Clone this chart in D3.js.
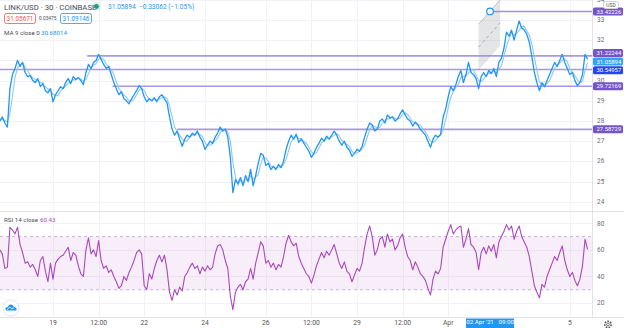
<!DOCTYPE html>
<html><head><meta charset="utf-8">
<script src="https://cdn.jsdelivr.net/npm/d3@7"></script>
<style>
html,body{margin:0;padding:0;background:#fff;}
svg{display:block;font-family:Roboto,"Open Sans",sans-serif;}
</style></head><body>
<svg id="chart" width="624" height="328"></svg>
<script>
// LINK/USD, 30-minute Coinbase chart, sampled every 2 hours from 17 Mar 2021 06:00 UTC
const firstBar = Date.UTC(2021, 2, 17, 6, 0);
const stepHours = 2;
const closes = [
  28.0, 28.2, 27.9, 27.7, 29.6, 30.3, 30.6, 31.0, 30.7, 30.9,
  30.4, 30.2, 30.25, 30.0, 29.9, 30.1, 29.7, 29.85, 29.5, 29.4,
  29.6, 28.95, 29.3, 29.5, 29.7, 29.6, 29.9, 30.1, 29.85, 30.2,
  30.05, 30.15, 30.0, 29.8, 30.4, 30.8, 30.6, 30.9, 31.0, 31.3,
  31.05, 30.8, 30.6, 30.7, 30.3, 29.9, 29.6, 29.3, 29.45, 29.1,
  29.0, 28.85, 29.1, 29.3, 29.5, 29.75, 29.6, 29.2, 28.95, 29.1,
  29.0, 29.15, 28.95, 29.2, 29.3, 29.1, 28.9, 28.2, 27.6, 27.3,
  27.5, 27.1, 26.75, 27.1, 27.3, 27.2, 27.4, 27.3, 27.5, 27.2,
  27.0, 26.6, 26.8, 27.0, 26.9, 27.2, 27.4, 27.7, 27.5, 27.6,
  27.2, 26.2, 24.45, 25.1, 24.9, 25.2, 24.8, 25.3, 25.0, 25.6,
  24.8, 25.3, 25.9, 26.4, 26.3, 25.8, 25.9, 25.6, 25.75, 25.6,
  25.85, 25.7, 26.0, 26.6, 27.0, 27.3, 27.1, 27.35, 26.95, 27.1,
  26.9, 26.7, 26.5, 26.2, 26.4, 26.7, 26.9, 27.15, 27.0, 27.25,
  27.1, 27.3, 27.5, 27.3, 27.0, 26.8, 27.0, 26.7, 26.55, 26.25,
  26.4, 26.6, 26.5, 26.75, 27.2, 27.6, 27.9, 27.8, 27.5, 27.6,
  28.0, 28.1, 27.9, 28.3, 28.15, 28.2, 28.0, 28.1, 28.35, 28.55,
  28.3, 28.1, 28.0, 27.75, 27.95, 27.8, 27.6, 27.45, 27.3, 27.0,
  26.7, 27.1, 27.3, 27.2, 27.35, 28.2, 28.6, 29.2, 29.7, 29.5,
  29.8, 30.2, 30.5, 29.9, 30.3, 30.9, 30.4, 30.3, 30.1, 29.6,
  30.2, 30.4, 30.2, 30.5, 30.35, 30.6, 30.2, 30.9, 31.1, 31.6,
  32.4, 32.2, 32.5, 32.0, 32.5, 32.95, 32.6, 32.5, 32.3, 31.9,
  31.2, 30.4, 29.9, 29.5, 29.9, 29.7, 30.0, 30.3, 30.6, 30.9,
  30.7, 31.0, 31.3, 30.9, 30.6, 30.3, 30.4, 30.0, 29.75, 29.9,
  30.3, 31.3, 31.05894
];
const rsiValues = [
  60, 57, 46, 47, 77, 75, 72, 77, 64, 58,
  50, 51, 47, 49, 45, 40, 52, 55, 44, 36,
  50, 38, 50, 53, 55, 56, 59, 62, 52, 58,
  56, 48, 42, 40, 60, 69, 57, 60, 55, 67,
  52, 46, 48, 43, 45, 40, 36, 31, 33, 40,
  37, 43, 47, 52, 58, 60, 57, 33, 30, 42,
  38, 46, 52, 56, 51, 56, 45, 28, 22, 30,
  26, 32, 29, 40, 43, 47, 50, 46, 48, 42,
  47, 44, 48, 45, 47, 57, 63, 64, 60, 52,
  46, 25, 15, 28, 32, 34, 30, 36, 38, 46,
  38, 50, 58, 66, 63, 50, 52, 47, 50, 45,
  49, 47, 55, 65, 71, 66, 63, 65, 55, 50,
  46, 42, 40, 35, 41, 48, 53, 58, 54, 59,
  56, 60, 64, 57, 50, 46, 51, 44, 42, 36,
  41, 46, 44, 50, 62, 72, 78, 70, 56, 60,
  68, 70, 62, 72, 66, 68, 60, 63, 69, 72,
  62, 55, 52, 45, 51, 47, 42, 40, 37, 31,
  26, 38, 44, 42, 46, 62, 68, 74, 79, 72,
  75, 77, 78, 62, 68, 76, 64, 62, 58, 45,
  58, 62, 57, 63, 59, 64, 54, 66, 70, 74,
  79, 75, 78, 68, 74, 78, 70, 66, 62, 55,
  44, 33, 28, 24, 34, 32, 40, 45, 50, 55,
  52, 58, 63, 52, 45, 40, 43, 37, 33, 38,
  48, 68, 60.43
];

// Axis ticks
const priceTicks = [24, 25, 26, 27, 28, 29, 30, 31, 32, 33, 34];
const rsiTicks = [20, 40, 60, 80];
const timeTickDates = [
  Date.UTC(2021, 2, 19), Date.UTC(2021, 2, 20, 12), Date.UTC(2021, 2, 22),
  Date.UTC(2021, 2, 24), Date.UTC(2021, 2, 26), Date.UTC(2021, 2, 27, 12),
  Date.UTC(2021, 2, 29), Date.UTC(2021, 2, 30, 12), Date.UTC(2021, 3, 1),
  Date.UTC(2021, 3, 5)
];
const timeTickLabels = ["19", "12:00", "22", "24", "26", "12:00", "29", "12:00", "Apr", "5"];

// Horizontal price levels drawn on the chart
const levelPrices = [31.22244, 30.54957, 29.72169, 27.58729];
const levelStarts = [
  Date.UTC(2021, 2, 20, 3), Date.UTC(2021, 2, 17, 6), Date.UTC(2021, 2, 20, 23), Date.UTC(2021, 2, 23, 2)
];
const levelColors = ["#7454c6", "#2a44f2", "#7454c6", "#7454c6"];

// Parallel channel drawing and its anchor
const channelTimes = [Date.UTC(2021, 3, 2, 0), Date.UTC(2021, 3, 2, 17)];
const channelLow = [30.52, 31.72];
const channelHigh = [32.80, 34.00];
const anchorTime = Date.UTC(2021, 3, 2, 9);
const anchorPrice = 33.42226;

const lastPrice = 31.05894;

const W = 624, H = 328;
const plotRight = 592;
const mainTop = 0, mainBottom = 211;
const rsiTop = 212, rsiBottom = 317;

const svg = d3.select("#chart");

const x = d3.scaleUtc()
  .domain([Date.UTC(2021, 2, 17, 6, 10), Date.UTC(2021, 3, 5, 17, 30)])
  .range([0, plotRight]);
const y = d3.scaleLinear().domain([24, 33]).range([201.8, 20]);
const yr = d3.scaleLinear().domain([20, 80]).range([303, 223.3]);

const bars = closes.map((v, i) => ({ t: firstBar + i * stepHours * 3600e3, v }));
const rsi = rsiValues.map((v, i) => ({ t: firstBar + i * stepHours * 3600e3, v }));
// MA 9 on 30-minute closes spans about 4.5 hours, i.e. three 2-hour samples
const ma = bars.map((d, i) => ({ t: d.t, v: d3.mean(closes.slice(Math.max(0, i - 2), i + 1)) }));

svg.append("rect").attr("width", W).attr("height", H).attr("fill", "#fff");

const defs = svg.append("defs");
defs.append("clipPath").attr("id", "clipMain").append("rect")
  .attr("x", 0).attr("y", mainTop).attr("width", plotRight).attr("height", mainBottom - mainTop);
defs.append("clipPath").attr("id", "clipRsi").append("rect")
  .attr("x", 0).attr("y", rsiTop).attr("width", plotRight).attr("height", rsiBottom - rsiTop);

// Grid
const grid = svg.append("g").attr("stroke", "#f0f2f7").attr("stroke-width", 1);
grid.selectAll(".hx").data(priceTicks).join("line")
  .attr("x1", 0).attr("x2", plotRight)
  .attr("y1", d => Math.round(y(d)) + 0.5).attr("y2", d => Math.round(y(d)) + 0.5);
grid.selectAll(".hr").data(rsiTicks).join("line")
  .attr("x1", 0).attr("x2", plotRight)
  .attr("y1", d => Math.round(yr(d)) + 0.5).attr("y2", d => Math.round(yr(d)) + 0.5);
grid.selectAll(".vx").data(timeTickDates).join("line")
  .attr("x1", d => Math.round(x(d)) + 0.5).attr("x2", d => Math.round(x(d)) + 0.5)
  .attr("y1", 0).attr("y2", rsiBottom);

// Pane separators
svg.append("line").attr("x1", 0).attr("x2", W).attr("y1", mainBottom + 0.5).attr("y2", mainBottom + 0.5)
  .attr("stroke", "#e0e3eb");
svg.append("line").attr("x1", 0).attr("x2", W).attr("y1", rsiBottom + 0.5).attr("y2", rsiBottom + 0.5)
  .attr("stroke", "#e0e3eb");
svg.append("line").attr("x1", plotRight + 0.5).attr("x2", plotRight + 0.5).attr("y1", 0).attr("y2", rsiBottom)
  .attr("stroke", "#e0e3eb");

// Main pane
const main = svg.append("g").attr("clip-path", "url(#clipMain)");

// channel
const chPoly = [
  [x(channelTimes[0]), y(channelLow[0])], [x(channelTimes[1]), y(channelLow[1])],
  [x(channelTimes[1]), y(channelHigh[1])], [x(channelTimes[0]), y(channelHigh[0])]
];
main.append("path").attr("d", "M" + chPoly.join("L") + "Z")
  .attr("fill", "rgba(120,123,134,0.2)");
main.append("line")
  .attr("x1", chPoly[3][0]).attr("y1", chPoly[3][1]).attr("x2", chPoly[2][0]).attr("y2", chPoly[2][1])
  .attr("stroke", "rgba(150,150,160,0.5)");
main.append("line")
  .attr("x1", x(channelTimes[0])).attr("y1", y((channelLow[0] + channelHigh[0]) / 2))
  .attr("x2", x(channelTimes[1])).attr("y2", y((channelLow[1] + channelHigh[1]) / 2))
  .attr("stroke", "rgba(140,140,150,0.7)").attr("stroke-dasharray", "3,3");

// level lines
main.selectAll(".lvl").data(levelPrices).join("line")
  .attr("x1", (d, i) => x(levelStarts[i])).attr("x2", plotRight)
  .attr("y1", d => y(d)).attr("y2", d => y(d))
  .attr("stroke", "#9f8de0").attr("stroke-width", 1.6).attr("stroke-opacity", 0.9);
main.append("line")
  .attr("x1", x(anchorTime)).attr("x2", plotRight)
  .attr("y1", y(anchorPrice)).attr("y2", y(anchorPrice))
  .attr("stroke", "#9f8de0").attr("stroke-width", 1.6);

const line = d3.line().x(d => x(d.t)).y(d => y(d.v));
main.append("path").datum(ma).attr("d", line)
  .attr("fill", "none").attr("stroke", "#8cc8f7").attr("stroke-width", 1.1);
main.append("path").datum(bars).attr("d", line)
  .attr("fill", "none").attr("stroke", "#2196f3").attr("stroke-width", 1.3)
  .attr("stroke-linejoin", "round");

main.append("circle").attr("cx", x(anchorTime)).attr("cy", y(anchorPrice)).attr("r", 3.3)
  .attr("fill", "#fff").attr("stroke", "#2196f3").attr("stroke-width", 1.2);

// RSI pane
const rp = svg.append("g").attr("clip-path", "url(#clipRsi)");
rp.append("rect").attr("x", 0).attr("width", plotRight)
  .attr("y", yr(70)).attr("height", yr(30) - yr(70)).attr("fill", "rgba(156,39,176,0.08)");
[70, 30].forEach(v => rp.append("line")
  .attr("x1", 0).attr("x2", plotRight).attr("y1", yr(v)).attr("y2", yr(v))
  .attr("stroke", "#c6b2dd").attr("stroke-dasharray", "3,3"));
rp.append("path").datum(rsi)
  .attr("d", d3.line().x(d => x(d.t)).y(d => yr(d.v)))
  .attr("fill", "none").attr("stroke", "#ab47bc").attr("stroke-width", 1.1)
  .attr("stroke-linejoin", "round");

// Value boxes on the price axis, pushed apart where they would collide
const boxH = 8;
const boxes = [
  { v: anchorPrice, c: "#7454c6" },
  { v: levelPrices[0], c: levelColors[0] },
  { v: lastPrice, c: "#35a3f2" },
  { v: levelPrices[1], c: levelColors[1] },
  { v: levelPrices[2], c: levelColors[2] },
  { v: levelPrices[3], c: levelColors[3] }
].map(b => ({ ...b, pos: y(b.v) })).sort((a, b) => a.pos - b.pos);
for (let k = 0; k < 60; k++) {
  for (let i = 1; i < boxes.length; i++) {
    const gap = boxes[i].pos - boxes[i - 1].pos;
    if (gap < boxH + 0.6) {
      const d = (boxH + 0.6 - gap) / 2;
      boxes[i - 1].pos -= d;
      boxes[i].pos += d;
    }
  }
}

// Price axis labels (those hidden behind a value box are skipped)
const visibleTicks = priceTicks.filter(t => boxes.every(b => Math.abs(y(t) - b.pos) > 5));
const axisText = svg.append("g").attr("font-size", 6.5).attr("fill", "#6a6d78");
axisText.selectAll(".pt").data(visibleTicks).join("text")
  .attr("x", 597).attr("y", d => y(d)).attr("dy", "0.3em").text(d => d);
axisText.selectAll(".rt").data(rsiTicks).join("text")
  .attr("x", 597).attr("y", d => yr(d)).attr("dy", "0.35em").text(d => d);

const bx = svg.append("g");
boxes.forEach(b => {
  bx.append("rect").attr("x", 593).attr("y", b.pos - boxH / 2).attr("width", 30).attr("height", boxH)
    .attr("rx", 1.5).attr("fill", b.c);
  bx.append("text").attr("x", 596.5).attr("y", b.pos).attr("dy", "0.35em")
    .attr("font-size", 5.9).attr("fill", "#fff").text(b.v.toFixed(5));
});

// USD tag
svg.append("rect").attr("x", 603.5).attr("y", 1.5).attr("width", 15).attr("height", 7).attr("rx", 2)
  .attr("fill", "#fff").attr("stroke", "#d1d4dc");
svg.append("text").attr("x", 611).attr("y", 5).attr("dy", "0.35em").attr("text-anchor", "middle")
  .attr("font-size", 5).attr("fill", "#555").text("USD");

// Time axis
const tx = svg.append("g").attr("font-size", 6.8).attr("fill", "#555");
tx.selectAll("text").data(timeTickDates).join("text")
  .attr("x", d => x(d)).attr("y", 324).attr("dy", "0.1em").attr("text-anchor", "middle")
  .text((d, i) => timeTickLabels[i]);
svg.append("rect").attr("x", x(anchorTime) - 24).attr("y", 318.5).attr("width", 48).attr("height", 9.5)
  .attr("fill", "#2196f3");
svg.append("text").attr("x", x(anchorTime)).attr("y", 323.5).attr("dy", "0.1em").attr("text-anchor", "middle")
  .attr("font-size", 6.2).attr("fill", "#fff").attr("xml:space", "preserve").text("02 Apr '21   09:00");

// Gear icon
const gear = svg.append("g").attr("transform", "translate(608,324.5)");
gear.append("circle").attr("r", 3.2).attr("fill", "none").attr("stroke", "#555").attr("stroke-width", 1.6)
  .attr("stroke-dasharray", "1.6,1.2");
gear.append("circle").attr("r", 1.4).attr("fill", "#fff").attr("stroke", "#555").attr("stroke-width", 0.8);

// Logo bubble
const logo = svg.append("g").attr("transform", "translate(11,308)");
logo.append("circle").attr("r", 8).attr("fill", "#fff").attr("stroke", "#e3e6ee");
logo.append("path").attr("d", "M-5,2.5 L5,2.5 Q6,2.5 5.5,0.5 Q5,-1 3,-1 Q2,-4 -1,-3.5 Q-3,-3 -3,-1 Q-6,-1 -5.5,1 Z")
  .attr("fill", "#2196f3");
logo.append("path").attr("d", "M-4,1.5 L-1,-1 L1,1 L3,-0.5").attr("fill", "none").attr("stroke", "#fff").attr("stroke-width", 0.8);

// Header legend
const hdr = svg.append("g").attr("font-size", 7.8);
hdr.append("text").attr("x", 4).attr("y", 7).attr("dy", "0.35em").attr("fill", "#4a4d57")
  .text("LINK/USD · 30 · COINBASE");
hdr.append("circle").attr("cx", 96.5).attr("cy", 6.5).attr("r", 4.5).attr("fill", "rgba(38,166,154,0.15)");
hdr.append("circle").attr("cx", 96.5).attr("cy", 6.5).attr("r", 2.4).attr("fill", "#1f9d83");
hdr.append("text").attr("x", 108).attr("y", 7).attr("dy", "0.35em").attr("fill", "#2196f3")
  .attr("font-size", 6.6).attr("xml:space", "preserve").text("31.05894  −0.33062 (−1.05%)");

hdr.append("rect").attr("x", 4.5).attr("y", 13.5).attr("width", 31).attr("height", 10).attr("rx", 2)
  .attr("fill", "#fff").attr("stroke", "#ef5350").attr("stroke-width", 0.8);
hdr.append("text").attr("x", 20).attr("y", 18.5).attr("dy", "0.35em").attr("text-anchor", "middle")
  .attr("font-size", 6.4).attr("fill", "#ef5350").text("31.05671");
hdr.append("text").attr("x", 39).attr("y", 18.5).attr("dy", "0.35em")
  .attr("font-size", 4.8).attr("fill", "#4a4d57").text("0.03475");
hdr.append("rect").attr("x", 60.5).attr("y", 13.5).attr("width", 31).attr("height", 10).attr("rx", 2)
  .attr("fill", "#fff").attr("stroke", "#2196f3").attr("stroke-width", 0.8);
hdr.append("text").attr("x", 76).attr("y", 18.5).attr("dy", "0.35em").attr("text-anchor", "middle")
  .attr("font-size", 6.4).attr("fill", "#2196f3").text("31.09146");

hdr.append("text").attr("x", 4).attr("y", 32.5).attr("dy", "0.35em").attr("font-size", 6.2)
  .attr("fill", "#4a4d57").text("MA 9 close 0");
hdr.append("text").attr("x", 41).attr("y", 32.5).attr("dy", "0.35em").attr("font-size", 6.2)
  .attr("fill", "#2196f3").text("30.68014");

hdr.append("text").attr("x", 4).attr("y", 219.5).attr("dy", "0.35em").attr("font-size", 6.2)
  .attr("fill", "#4a4d57").text("RSI 14 close");
hdr.append("text").attr("x", 40).attr("y", 219.5).attr("dy", "0.35em").attr("font-size", 6.2)
  .attr("fill", "#ab47bc").text("60.43");
</script>
</body></html>
